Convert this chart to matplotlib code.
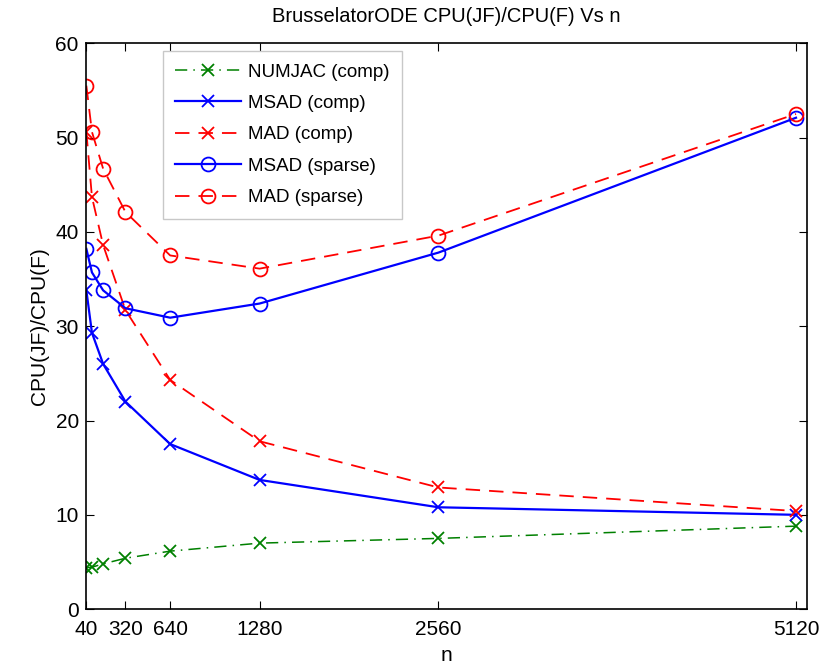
import matplotlib
matplotlib.use("Agg")
import matplotlib.pyplot as plt

plt.rcParams['font.family'] = ['Liberation Sans', 'DejaVu Sans']

# Data
n = [40, 80, 160, 320, 640, 1280, 2560, 5120]
numjac_comp = [4.4, 4.45, 4.8, 5.4, 6.15, 7.0, 7.5, 8.8]
msad_comp = [33.8, 29.3, 26.0, 22.0, 17.5, 13.7, 10.8, 10.0]
mad_comp = [50.6, 43.7, 38.6, 31.7, 24.3, 17.8, 12.9, 10.4]
msad_sparse = [38.2, 35.7, 33.8, 31.9, 30.9, 32.4, 37.8, 52.1]
mad_sparse = [55.5, 50.6, 46.7, 42.1, 37.5, 36.1, 39.6, 52.5]
xticks = [40, 320, 640, 1280, 2560, 5120]
yticks = [0, 10, 20, 30, 40, 50, 60]

fig = plt.figure(figsize=(8.33, 6.65), dpi=100)
ax = fig.add_axes([0.103, 0.084, 0.866, 0.851])

ax.plot(n, numjac_comp, color='green', linestyle=(0, (8, 4, 1, 4)), marker='x',
        markersize=9, mew=1.3, lw=1.1, label='NUMJAC (comp)')
ax.plot(n, msad_comp, color='blue', linestyle='-', marker='x',
        markersize=9, mew=1.3, lw=1.6, label='MSAD (comp)')
ax.plot(n, mad_comp, color='red', linestyle=(0, (8, 5)), marker='x',
        markersize=9, mew=1.3, lw=1.3, label='MAD (comp)')
ax.plot(n, msad_sparse, color='blue', linestyle='-', marker='o', mfc='none',
        markersize=10, mew=1.3, lw=1.6, label='MSAD (sparse)')
ax.plot(n, mad_sparse, color='red', linestyle=(0, (8, 5)), marker='o', mfc='none',
        markersize=10, mew=1.3, lw=1.3, label='MAD (sparse)')

ax.set_xlim(36, 5200)
ax.set_ylim(0, 60)
ax.set_xticks(xticks)
ax.set_yticks(yticks)
ax.tick_params(direction='in', top=True, right=True, labelsize=15, length=6, width=0.8)
ax.tick_params(axis='x', pad=8)
ax.tick_params(axis='y', pad=5)
for s in ax.spines.values():
    s.set_linewidth(1.2)

ax.set_xlabel('n', fontsize=15, labelpad=5)
ax.set_ylabel('CPU(JF)/CPU(F)', fontsize=15, labelpad=5)
ax.set_title('BrusselatorODE CPU(JF)/CPU(F) Vs n', fontsize=14.5, pad=15)

leg = ax.legend(loc='upper left', bbox_to_anchor=(0.107, 0.986), fontsize=13.5,
                fancybox=False, framealpha=1, edgecolor='#c8c8c8',
                handlelength=3.5, handletextpad=0.4, borderaxespad=0,
                labelspacing=0.76, borderpad=0.66)

fig.savefig('out.png', dpi=100)
